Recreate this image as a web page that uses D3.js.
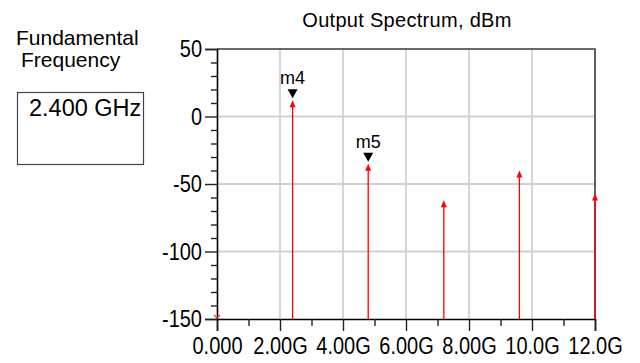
<!DOCTYPE html>
<html>
<head>
<meta charset="utf-8">
<script src="https://cdn.jsdelivr.net/npm/d3@7"></script>
<style>
  body { margin: 0; background: #fff; }
  svg { display: block; font-family: "Liberation Sans", Arial, sans-serif; }
</style>
</head>
<body>
<div id="chart"></div>
<script>
// harmonic spectrum
const freqGHz = [0, 2.4, 4.8, 7.2, 9.6, 12.0];
const powerDbm = [-160, 12, -35, -62, -40, -57];
const markerNames = ['m4', 'm5'];
const markerIdx = [1, 2];
const xTicks = [0, 2, 4, 6, 8, 10, 12];
const xTickLabels = ['0.000', '2.00G', '4.00G', '6.00G', '8.00G', '10.0G', '12.0G'];
const xMinor = [1, 3, 5, 7, 9, 11];
const yTicks = [50, 0, -50, -100, -150];
const yMinor = d3.range(-150, 51, 10).filter(v => v % 50 !== 0);

const W = 640, H = 363;
const plot = { left: 217, right: 595, top: 49, bottom: 319 };

const svg = d3.select('#chart').append('svg')
  .attr('width', W)
  .attr('height', H);

const x = d3.scaleLinear().domain([0, 12]).range([plot.left, plot.right]);
const y = d3.scaleLinear().domain([-150, 50]).range([plot.bottom, plot.top]);

// left panel
svg.append('text').attr('x', 16).attr('y', 45)
  .style('font-size', '21px').text('Fundamental');
svg.append('text').attr('x', 21).attr('y', 67)
  .style('font-size', '21px').text('Frequency');
svg.append('rect')
  .attr('x', 17.5).attr('y', 92.5).attr('width', 126).attr('height', 72)
  .attr('fill', 'none').attr('stroke', '#444').attr('stroke-width', 1.2);
svg.append('text').attr('x', 29).attr('y', 116)
  .style('font-size', '23.5px').text('2.400 GHz');

// title
svg.append('text')
  .attr('x', (plot.left + plot.right) / 2 + 1).attr('y', 27)
  .attr('text-anchor', 'middle')
  .style('font-size', '20px')
  .style('letter-spacing', '0.3px')
  .text('Output Spectrum, dBm');

// grid
svg.append('g').selectAll('line')
  .data(xTicks.slice(1, -1))
  .join('line')
  .attr('x1', d => x(d)).attr('x2', d => x(d))
  .attr('y1', plot.top).attr('y2', plot.bottom)
  .attr('stroke', '#c4c4c4').attr('stroke-width', 1.4);
svg.append('g').selectAll('line')
  .data(yTicks.slice(1, -1))
  .join('line')
  .attr('x1', plot.left).attr('x2', plot.right)
  .attr('y1', d => y(d)).attr('y2', d => y(d))
  .attr('stroke', '#cfcfcf').attr('stroke-width', 1.8);

// frame top/right
svg.append('path')
  .attr('d', `M${plot.left},${plot.top}H${plot.right}V${plot.bottom}`)
  .attr('fill', 'none').attr('stroke', '#3a3a3a').attr('stroke-width', 1.6);

// axes
const yAxis = svg.append('g')
  .attr('transform', `translate(${plot.left},0)`)
  .call(d3.axisLeft(y).tickValues(yTicks).tickSize(12).tickPadding(4)
    .tickFormat(d => String(d)));
svg.append('g')
  .attr('transform', `translate(${plot.left},0)`)
  .call(d3.axisLeft(y).tickValues(yMinor).tickSize(6).tickFormat(''))
  .call(g => g.select('.domain').remove());

const xAxis = svg.append('g')
  .attr('transform', `translate(0,${plot.bottom})`)
  .call(d3.axisBottom(x).tickValues(xTicks).tickSize(12)
    .tickFormat((d, i) => xTickLabels[i]));
svg.append('g')
  .attr('transform', `translate(0,${plot.bottom})`)
  .call(d3.axisBottom(x).tickValues(xMinor).tickSize(7).tickFormat(''))
  .call(g => g.select('.domain').remove());

svg.selectAll('.domain').attr('stroke', '#000').attr('stroke-width', 1.6);
svg.selectAll('.tick line').attr('stroke', '#222').attr('stroke-width', 1.4);

yAxis.selectAll('text')
  .attr('x', -15).attr('dy', '0.34em')
  .attr('transform', 'scale(1,1.15)')
  .style('font-size', '20px').attr('fill', '#000');
xAxis.selectAll('text')
  .attr('y', 0).attr('dy', 0)
  .attr('transform', 'translate(0,35) scale(1,1.15)')
  .style('font-size', '20px').attr('fill', '#000');

// spectral lines
const spikes = freqGHz.map((f, i) => ({ f, p: powerDbm[i] }));
const inRange = spikes.filter(d => d.p >= -150);

svg.append('g').selectAll('line')
  .data(inRange)
  .join('line')
  .attr('x1', d => x(d.f)).attr('x2', d => x(d.f))
  .attr('y1', plot.bottom).attr('y2', d => y(d.p) + 3)
  .attr('stroke', '#ff0000').attr('stroke-width', 1.3);

svg.append('g').selectAll('path')
  .data(inRange)
  .join('path')
  .attr('d', d => {
    const cx = x(d.f), cy = y(d.p);
    return `M${cx},${cy}L${cx + 3},${cy + 7}L${cx - 3},${cy + 7}Z`;
  })
  .attr('fill', '#ff0000');

// below-range value shown as a small chevron on the floor
svg.append('g').selectAll('path')
  .data(spikes.filter(d => d.p < -150))
  .join('path')
  .attr('d', d => {
    const cx = x(d.f), cy = y(-150);
    return `M${cx - 3},${cy - 4}L${cx},${cy - 1}L${cx + 3},${cy - 4}`;
  })
  .attr('fill', 'none').attr('stroke', '#ff3030').attr('stroke-width', 1.2);

// markers
markerIdx.forEach((idx, k) => {
  const cx = x(freqGHz[idx]);
  const cy = y(powerDbm[idx]) - 2;
  svg.append('path')
    .attr('d', `M${cx},${cy}L${cx + 5},${cy - 9}L${cx - 5},${cy - 9}Z`)
    .attr('fill', '#000');
  svg.append('text')
    .attr('x', cx).attr('y', cy - 14)
    .attr('text-anchor', 'middle')
    .style('font-size', '18px')
    .text(markerNames[k]);
});
</script>
</body>
</html>
